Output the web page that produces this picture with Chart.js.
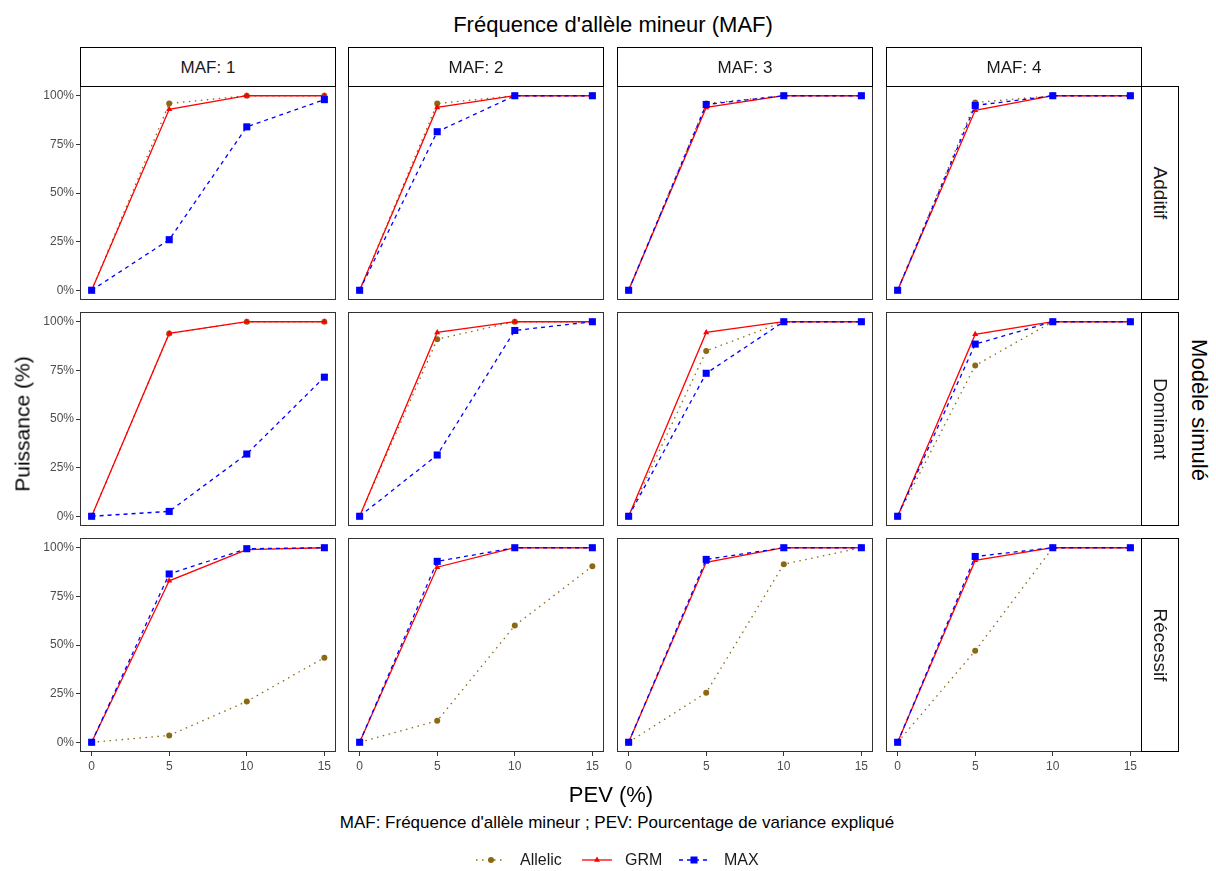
<!DOCTYPE html>
<html><head><meta charset="utf-8">
<script src="https://cdn.jsdelivr.net/npm/chart.js@4"></script>
<style>
html,body{margin:0;padding:0;background:#fff;}
body{width:1216px;height:871px;position:relative;overflow:hidden;font-family:"Liberation Sans",Arial,sans-serif;}
.t{position:absolute;white-space:nowrap;line-height:1;}
canvas{position:absolute;}
.strip{position:absolute;box-sizing:border-box;border:1px solid #000;background:#fff;}
.leg{position:absolute;}
</style></head><body>
<script>
// ---------- DATA ----------
const pev = [0, 5, 10, 15];
const pevTicks = [0, 5, 10, 15];
const yTicks = [0, 25, 50, 75, 100];
const yTickLabels = ['0%', '25%', '50%', '75%', '100%'];
const mafLabels = ['MAF: 1', 'MAF: 2', 'MAF: 3', 'MAF: 4'];
const modelLabels = ['Additif', 'Dominant', 'Récessif'];
const seriesNames = ['Allelic', 'GRM', 'MAX'];

// one row per MAF (1..4), values (%) at PEV 0, 5, 10, 15
const allelicAdditif  = [[0, 96, 100, 100], [0, 96, 100, 100], [0, 96, 100, 100], [0, 96.5, 100, 100]];
const grmAdditif      = [[0, 93, 100, 100], [0, 94, 100, 100], [0, 94, 100, 100], [0, 92.5, 100, 100]];
const maxAdditif      = [[0, 26, 84, 98],   [0, 81.5, 100, 100], [0, 95.5, 100, 100], [0, 95, 100, 100]];

const allelicDominant = [[0, 94, 100, 100], [0, 91, 100, 100], [0, 85, 100, 100], [0, 77.5, 100, 100]];
const grmDominant     = [[0, 94, 100, 100], [0, 94.5, 100, 100], [0, 94.5, 100, 100], [0, 93.5, 100, 100]];
const maxDominant     = [[0, 2.5, 32, 71.5], [0, 31.5, 95.5, 100], [0, 73.5, 100, 100], [0, 88.5, 100, 100]];

const allelicRecessif = [[0, 3.5, 21, 43.5], [0, 11, 60, 90.5], [0, 25.5, 91.5, 100], [0, 47, 100, 100]];
const grmRecessif     = [[0, 83, 99, 100], [0, 90, 100, 100], [0, 92.5, 100, 100], [0, 93.5, 100, 100]];
const maxRecessif     = [[0, 86.5, 99.5, 100], [0, 93, 100, 100], [0, 94, 100, 100], [0, 95.5, 100, 100]];

const tables = [
  [allelicAdditif, grmAdditif, maxAdditif],
  [allelicDominant, grmDominant, maxDominant],
  [allelicRecessif, grmRecessif, maxRecessif]
];

// ---------- STYLE / LAYOUT ----------
const FONT = '"Liberation Sans", Arial, sans-serif';
const seriesStyle = [
  {color: '#8B6914', dash: [1.5, 4.5], point: 'circle', radius: 3, order: 3},
  {color: '#FF0000', dash: [], point: 'triangle', radius: 3.5, order: 2},
  {color: '#0000FF', dash: [4, 4], point: 'rect', radius: 5, order: 1}
];
const panelLeft = [80, 348, 617, 886];
const panelTop = [86, 312, 538];
const PW = 256, PH = 214;
const M = 14, W = 50, H = 26;

function addText(txt, cx, cy, size, rot, color) {
  const d = document.createElement('div');
  d.className = 't';
  d.textContent = txt;
  d.style.fontSize = size + 'px';
  d.style.color = color || '#000';
  d.style.left = cx + 'px';
  d.style.top = cy + 'px';
  d.style.transform = 'translate(-50%,-50%) rotate(' + rot + 'deg)';
  document.body.appendChild(d);
}

const panelBorder = {
  id: 'panelBorder',
  afterDraw(chart) {
    const a = chart.chartArea, ctx = chart.ctx;
    ctx.save();
    ctx.strokeStyle = '#333333';
    ctx.lineWidth = 1;
    ctx.strokeRect(Math.round(a.left) + 0.5, Math.round(a.top) + 0.5,
                   Math.round(a.right - a.left) - 1, Math.round(a.bottom - a.top) - 1);
    ctx.restore();
  }
};

for (let r = 0; r < 3; r++) {
  for (let c = 0; c < 4; c++) {
    const showY = c === 0, showX = r === 2;
    const padL = M + (showY ? W : 0);
    const padB = M + (showX ? H : 0);
    const cv = document.createElement('canvas');
    cv.width = PW + padL + M;
    cv.height = PH + M + padB;
    cv.style.left = (panelLeft[c] - padL) + 'px';
    cv.style.top = (panelTop[r] - M) + 'px';
    cv.style.width = cv.width + 'px';
    cv.style.height = cv.height + 'px';
    document.body.appendChild(cv);

    const datasets = seriesNames.map((name, s) => ({
      label: name,
      data: pev.map((x, i) => ({x: x, y: tables[r][s][c][i]})),
      borderColor: seriesStyle[s].color,
      backgroundColor: seriesStyle[s].color,
      borderWidth: 1.3,
      borderDash: seriesStyle[s].dash,
      pointStyle: seriesStyle[s].point,
      pointRadius: seriesStyle[s].radius,
      pointBorderWidth: 0,
      order: seriesStyle[s].order,
      tension: 0,
      fill: false
    }));

    new Chart(cv, {
      type: 'line',
      data: {datasets},
      plugins: [panelBorder],
      options: {
        responsive: false,
        animation: false,
        events: [],
        layout: {padding: {left: M, right: M, top: M, bottom: M}},
        plugins: {legend: {display: false}, tooltip: {enabled: false}},
        scales: {
          x: {
            type: 'linear', min: -0.75, max: 15.75,
            display: showX,
            afterBuildTicks: (s) => { s.ticks = pevTicks.map(v => ({value: v})); },
            afterFit: (s) => { s.height = showX ? H : 0; },
            grid: {display: true, drawOnChartArea: false, drawTicks: true, tickLength: 4, color: '#333333'},
            border: {display: false},
            ticks: {autoSkip: false, maxRotation: 0, padding: 3, color: '#4D4D4D',
                    font: {family: FONT, size: 12},
                    callback: (v) => String(v)}
          },
          y: {
            type: 'linear', min: -5, max: 105,
            display: showY,
            afterBuildTicks: (s) => { s.ticks = yTicks.map(v => ({value: v})); },
            afterFit: (s) => { s.width = showY ? W : 0; },
            grid: {display: true, drawOnChartArea: false, drawTicks: true, tickLength: 4, color: '#333333'},
            border: {display: false},
            ticks: {autoSkip: false, padding: 2, color: '#4D4D4D',
                    font: {family: FONT, size: 12},
                    callback: (v) => yTickLabels[yTicks.indexOf(v)]}
          }
        }
      }
    });
  }
}

// strips
for (let c = 0; c < 4; c++) {
  const d = document.createElement('div');
  d.className = 'strip';
  d.style.left = panelLeft[c] + 'px';
  d.style.top = '47px';
  d.style.width = PW + 'px';
  d.style.height = (panelTop[0] - 47 + 1) + 'px';
  document.body.appendChild(d);
  addText(mafLabels[c], panelLeft[c] + PW / 2, 67, 17, 0, '#1A1A1A');
}
for (let r = 0; r < 3; r++) {
  const d = document.createElement('div');
  d.className = 'strip';
  d.style.left = (panelLeft[3] + PW - 1) + 'px';
  d.style.top = panelTop[r] + 'px';
  d.style.width = '38px';
  d.style.height = PH + 'px';
  document.body.appendChild(d);
  addText(modelLabels[r], panelLeft[3] + PW + 18, panelTop[r] + PH / 2, 19, 90, '#1A1A1A');
}

// titles
addText("Fréquence d'allèle mineur (MAF)", 613, 25, 22, 0, '#000');
addText('Modèle simulé', 1199, 410, 22, 90, '#000');
addText('Puissance (%)', 22, 424, 21, -90, '#000');
addText('PEV (%)', 611, 795, 22, 0, '#000');
addText("MAF: Fréquence d'allèle mineur ; PEV: Pourcentage de variance expliqué", 617, 822, 17, 0, '#000');

// legend
const legendKeyX = [475, 581, 678];
const legendTextX = [520, 625, 724];
const NS = 'http://www.w3.org/2000/svg';
seriesNames.forEach((name, s) => {
  const st = seriesStyle[s];
  const svg = document.createElementNS(NS, 'svg');
  svg.setAttribute('width', '32'); svg.setAttribute('height', '16');
  svg.setAttribute('class', 'leg');
  svg.style.left = legendKeyX[s] + 'px';
  svg.style.top = '852px';
  const ln = document.createElementNS(NS, 'line');
  ln.setAttribute('x1', '1'); ln.setAttribute('x2', '31');
  ln.setAttribute('y1', '8'); ln.setAttribute('y2', '8');
  ln.setAttribute('stroke', st.color); ln.setAttribute('stroke-width', '1.3');
  if (st.dash.length) ln.setAttribute('stroke-dasharray', st.dash.join(','));
  svg.appendChild(ln);
  let mk;
  if (st.point === 'circle') {
    mk = document.createElementNS(NS, 'circle');
    mk.setAttribute('cx', '16'); mk.setAttribute('cy', '8'); mk.setAttribute('r', '3');
  } else if (st.point === 'triangle') {
    mk = document.createElementNS(NS, 'polygon');
    mk.setAttribute('points', '16,4.5 19,9.75 13,9.75');
  } else {
    mk = document.createElementNS(NS, 'rect');
    mk.setAttribute('x', '12.5'); mk.setAttribute('y', '4.5');
    mk.setAttribute('width', '7'); mk.setAttribute('height', '7');
  }
  mk.setAttribute('fill', st.color);
  svg.appendChild(mk);
  document.body.appendChild(svg);
  const t = document.createElement('div');
  t.className = 't';
  t.textContent = name;
  t.style.fontSize = '16px';
  t.style.color = '#1A1A1A';
  t.style.left = legendTextX[s] + 'px';
  t.style.top = '860px';
  t.style.transform = 'translate(0,-50%)';
  document.body.appendChild(t);
});
</script>
</body></html>
